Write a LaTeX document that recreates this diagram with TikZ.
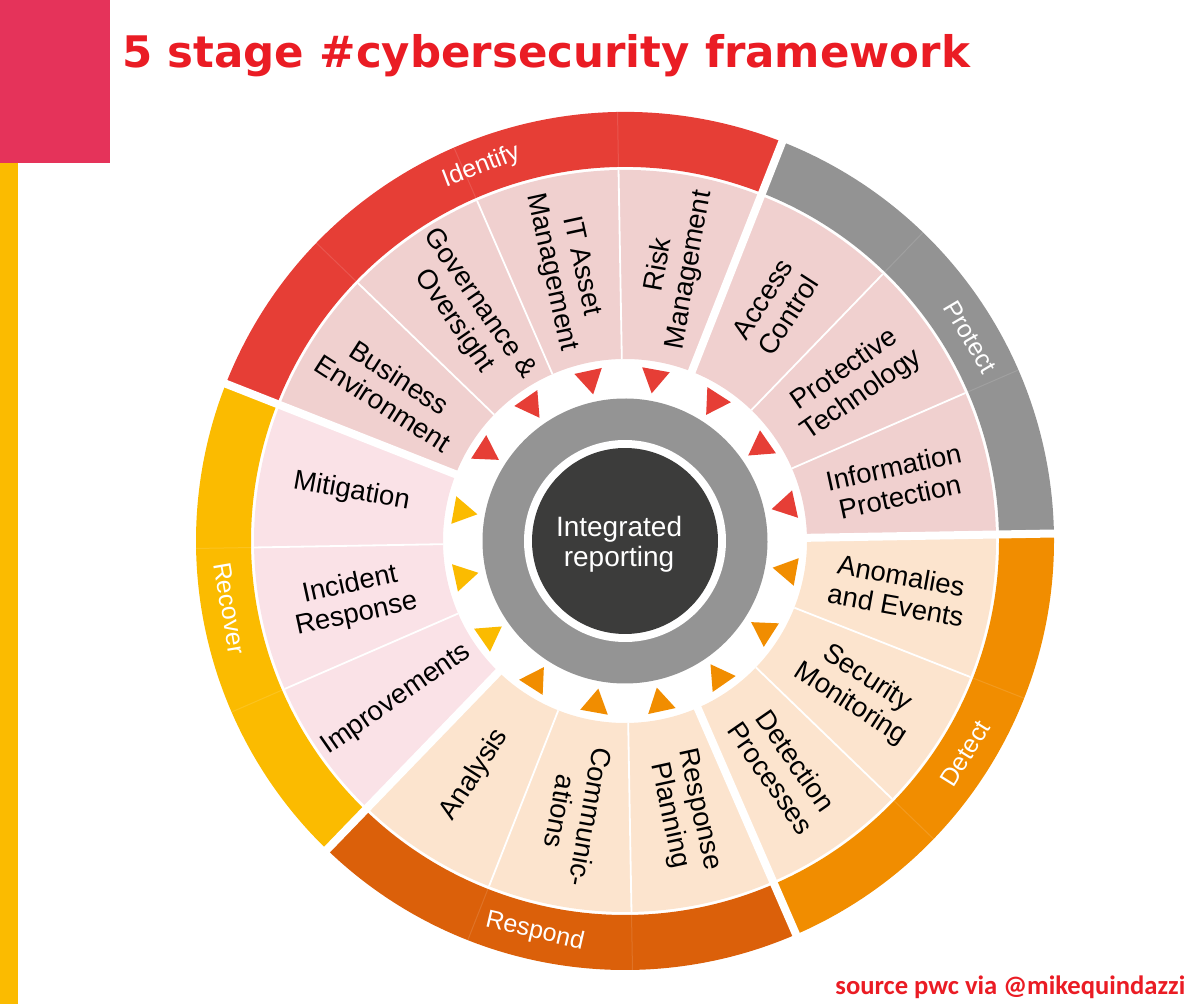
\documentclass[tikz,border=0pt]{standalone}
\usepackage{fontspec}
\setmainfont{Liberation Sans}
\newfontfamily\headfont{DejaVu Sans}
\newfontfamily\notefont{Carlito}
\definecolor{identifyband}{HTML}{E63E36}
\definecolor{protectband}{HTML}{939393}
\definecolor{detectband}{HTML}{F18D00}
\definecolor{respondband}{HTML}{DB600A}
\definecolor{recoverband}{HTML}{FBBB00}
\definecolor{partrose}{HTML}{F0D0CF}
\definecolor{partpeach}{HTML}{FCE4CE}
\definecolor{partblush}{HTML}{FAE2E7}
\definecolor{ringgray}{HTML}{949494}
\definecolor{coredark}{HTML}{3C3C3B}
\definecolor{titlered}{HTML}{EA1C24}
\definecolor{cornerpink}{HTML}{E5335A}
\tikzset{
  partlabel/.style={align=center, inner sep=0pt, text=black, font=\fontsize{13.75pt}{15.2pt}\selectfont},
  stagelabel/.style={inner sep=0pt, text=white, font=\fontsize{12.5pt}{14pt}\selectfont},
  corelabel/.style={align=center, inner sep=0pt, text=white, font=\fontsize{14pt}{15pt}\selectfont},
  headline/.style={inner sep=0pt, text=titlered, font=\headfont\bfseries\fontsize{21.75pt}{24pt}\selectfont},
  credit/.style={inner sep=0pt, text=titlered, font=\notefont\bfseries\fontsize{13.3pt}{15pt}\selectfont},
  seam/.style={white, line width=0.9pt},
  faintseam/.style={white, line width=0.5pt, opacity=0.12},
  cut/.style={white, line width=4pt}
}
\begin{document}
\begin{tikzpicture}[x=0.5pt, y=0.5pt]
\useasboundingbox (0,0) rectangle (1200,-1004);

% Corner decoration.
\fill[cornerpink] (0,0) rectangle (110,-163);
\fill[recoverband] (0,-163) rectangle (18,-1004);

\node[headline, anchor=base west] (title) at (122,-68) {5 stage \#cybersecurity framework};

\begin{scope}[shift={(625,-541)}, rotate=1]

% Outer stage band.
\foreach \from/\to/\col in {67.5/157.5/identifyband, 0/67.5/protectband, -67.5/0/detectband, -135/-67.5/respondband, 157.5/225/recoverband} {
  \fill[\col] (\from:374) arc[start angle=\from, end angle=\to, radius=374] -- (\to:429) arc[start angle=\to, end angle=\from, radius=429] -- cycle;
}

% Ring of sixteen parts.
\foreach \from/\to/\col in {0/157.5/partrose, 157.5/225/partblush, 225/360/partpeach} {
  \fill[\col] (\from:182) arc[start angle=\from, end angle=\to, radius=182] -- (\to:371) arc[start angle=\to, end angle=\from, radius=371] -- cycle;
}
\foreach \a in {22.5,45,90,112.5,135,180,202.5,247.5,270,315,337.5} {
  \draw[seam] (\a:182) -- (\a:371);
  \draw[faintseam] (\a:374) -- (\a:429);
}
\foreach \a in {0,67.5,157.5,225,292.5} {
  \draw[cut] (\a:178) -- (\a:433);
}

% Triangles pointing to the core.
\foreach \a/\col in {11.25/identifyband, 33.75/identifyband, 56.25/identifyband, 78.75/identifyband, 101.25/identifyband, 123.75/identifyband, 146.25/identifyband, 168.75/recoverband, 191.25/recoverband, 213.75/recoverband, 236.25/detectband, 258.75/detectband, 281.25/detectband, 303.75/detectband, 326.25/detectband, 348.75/detectband} {
  \fill[\col, rotate=\a] (150,0) -- (174,14) -- (174,-14) -- cycle;
}

% Core.
\fill[ringgray] (0,0) circle[radius=142.5];
\fill[white] (0,0) circle[radius=101];
\fill[coredark] (0,0) circle[radius=93];
\node[corelabel] (core) at (-6,-3.5) {Integrated\\reporting};

% Part labels.
\foreach \a/\r/\txt [count=\i] in {
  11.25/12.25/{Information\\Protection},
  33.75/34.75/{Protective\\Technology},
  56.25/57.25/{Access\\Control},
  78.75/79.75/{Risk\\Management},
  101.25/-77.75/{IT Asset\\Management},
  123.75/-55.25/{Governance \&\\Oversight},
  146.25/-32.75/{Business\\Environment},
  168.75/-10.25/{Mitigation},
  191.25/12.25/{Incident\\Response},
  213.75/34.75/{Improvements},
  236.25/57.25/{Analysis},
  258.75/-100.25/{Communic-\\ations},
  281.25/-77.75/{Response\\Planning},
  303.75/-55.25/{Detection\\Processes},
  326.25/-32.75/{Security\\Monitoring},
  348.75/-10.25/{Anomalies\\and Events}} {
  \node[partlabel, rotate=\r] (part\i) at (\a:278) {\txt};
}

% Stage labels.
\node[stagelabel, rotate=21] (identify) at (110:401) {Identify};
\node[stagelabel, rotate=-59.4] (protect) at (29.6:401) {Protect};
\node[stagelabel, rotate=58] (detect) at (-33:401) {Detect};
\node[stagelabel, rotate=-13] (respond) at (256:401) {Respond};
\node[stagelabel, rotate=-80.3] (recover) at (188.7:401) {Recover};

\end{scope}

\node[credit, anchor=base west] (credit) at (835,-994) {source pwc via @mikequindazzi};

\end{tikzpicture}
\end{document}
